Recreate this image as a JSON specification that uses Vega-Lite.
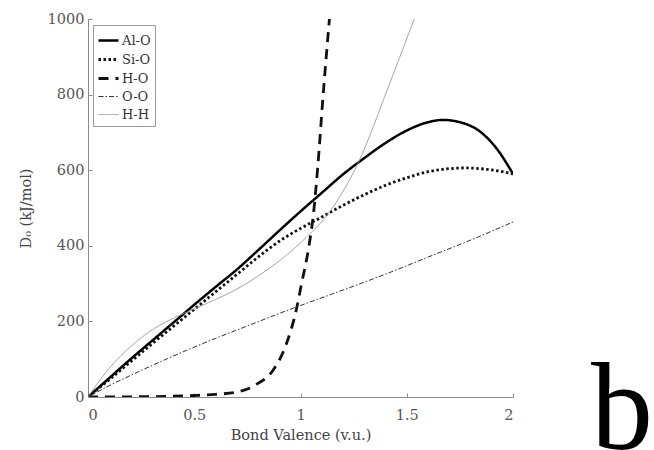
{
  "$schema": "https://vega.github.io/schema/vega-lite/v6.json",
  "autosize": {"type": "none"},
  "padding": {"left": 88, "top": 19, "right": 141, "bottom": 53},
  "width": 425,
  "height": 378,
  "background": "white",
  "title": {"text": "b", "orient": "bottom", "anchor": "end", "frame": "group", "font": "Liberation Serif", "fontSize": 124, "fontWeight": "normal", "color": "black", "baseline": "alphabetic", "dx": 140, "dy": 3},
  "config": {
    "view": {"stroke": null},
    "font": "DejaVu Serif",
    "axis": {"grid": false, "domainColor": "#8a8a8a", "tickColor": "#8a8a8a", "labelFont": "DejaVu Serif", "labelFontSize": 14.5, "labelColor": "#555", "titleFont": "DejaVu Serif", "titleFontSize": 14.5, "titleColor": "#444", "titleFontWeight": "normal", "tickSize": -4},
    "legend": {"labelFont": "DejaVu Serif", "labelFontSize": 13, "labelColor": "#333"}
  },
  "data": {"values": [
    {"series": "Al-O", "x": 0, "y": 0}, {"series": "Al-O", "x": 0.1, "y": 50}, {"series": "Al-O", "x": 0.2, "y": 100}, {"series": "Al-O", "x": 0.3, "y": 148}, {"series": "Al-O", "x": 0.4, "y": 196}, {"series": "Al-O", "x": 0.5, "y": 244}, {"series": "Al-O", "x": 0.6, "y": 291}, {"series": "Al-O", "x": 0.7, "y": 337}, {"series": "Al-O", "x": 0.8, "y": 388}, {"series": "Al-O", "x": 0.9, "y": 440}, {"series": "Al-O", "x": 1.0, "y": 491}, {"series": "Al-O", "x": 1.1, "y": 540}, {"series": "Al-O", "x": 1.2, "y": 589}, {"series": "Al-O", "x": 1.3, "y": 632}, {"series": "Al-O", "x": 1.4, "y": 672}, {"series": "Al-O", "x": 1.5, "y": 705}, {"series": "Al-O", "x": 1.6, "y": 727}, {"series": "Al-O", "x": 1.67, "y": 733}, {"series": "Al-O", "x": 1.75, "y": 727}, {"series": "Al-O", "x": 1.85, "y": 700}, {"series": "Al-O", "x": 1.93, "y": 652}, {"series": "Al-O", "x": 2.0, "y": 590},
    {"series": "Si-O", "x": 0, "y": 0}, {"series": "Si-O", "x": 0.1, "y": 46}, {"series": "Si-O", "x": 0.2, "y": 93}, {"series": "Si-O", "x": 0.3, "y": 140}, {"series": "Si-O", "x": 0.4, "y": 186}, {"series": "Si-O", "x": 0.5, "y": 232}, {"series": "Si-O", "x": 0.6, "y": 278}, {"series": "Si-O", "x": 0.7, "y": 324}, {"series": "Si-O", "x": 0.8, "y": 370}, {"series": "Si-O", "x": 0.9, "y": 412}, {"series": "Si-O", "x": 1.0, "y": 446}, {"series": "Si-O", "x": 1.1, "y": 476}, {"series": "Si-O", "x": 1.2, "y": 507}, {"series": "Si-O", "x": 1.3, "y": 535}, {"series": "Si-O", "x": 1.4, "y": 560}, {"series": "Si-O", "x": 1.5, "y": 580}, {"series": "Si-O", "x": 1.6, "y": 596}, {"series": "Si-O", "x": 1.7, "y": 604}, {"series": "Si-O", "x": 1.78, "y": 606}, {"series": "Si-O", "x": 1.88, "y": 602}, {"series": "Si-O", "x": 1.96, "y": 595}, {"series": "Si-O", "x": 2.0, "y": 590},
    {"series": "H-O", "x": 0, "y": 0}, {"series": "H-O", "x": 0.3, "y": 1}, {"series": "H-O", "x": 0.5, "y": 4}, {"series": "H-O", "x": 0.6, "y": 7}, {"series": "H-O", "x": 0.7, "y": 13}, {"series": "H-O", "x": 0.75, "y": 21}, {"series": "H-O", "x": 0.8, "y": 36}, {"series": "H-O", "x": 0.87, "y": 70}, {"series": "H-O", "x": 0.935, "y": 143}, {"series": "H-O", "x": 0.98, "y": 230}, {"series": "H-O", "x": 1.005, "y": 300}, {"series": "H-O", "x": 1.037, "y": 390}, {"series": "H-O", "x": 1.06, "y": 480}, {"series": "H-O", "x": 1.087, "y": 650}, {"series": "H-O", "x": 1.1, "y": 750}, {"series": "H-O", "x": 1.136, "y": 1000},
    {"series": "O-O", "x": 0, "y": 0}, {"series": "O-O", "x": 0.1, "y": 30}, {"series": "O-O", "x": 0.2, "y": 57}, {"series": "O-O", "x": 0.3, "y": 83}, {"series": "O-O", "x": 0.4, "y": 108}, {"series": "O-O", "x": 0.5, "y": 132}, {"series": "O-O", "x": 0.6, "y": 155}, {"series": "O-O", "x": 0.7, "y": 177}, {"series": "O-O", "x": 0.8, "y": 199}, {"series": "O-O", "x": 0.9, "y": 221}, {"series": "O-O", "x": 1.0, "y": 242}, {"series": "O-O", "x": 1.2, "y": 283}, {"series": "O-O", "x": 1.4, "y": 325}, {"series": "O-O", "x": 1.6, "y": 370}, {"series": "O-O", "x": 1.8, "y": 415}, {"series": "O-O", "x": 2.0, "y": 463},
    {"series": "H-H", "x": 0, "y": 0}, {"series": "H-H", "x": 0.05, "y": 40}, {"series": "H-H", "x": 0.1, "y": 76}, {"series": "H-H", "x": 0.2, "y": 133}, {"series": "H-H", "x": 0.3, "y": 177}, {"series": "H-H", "x": 0.4, "y": 208}, {"series": "H-H", "x": 0.5, "y": 233}, {"series": "H-H", "x": 0.6, "y": 258}, {"series": "H-H", "x": 0.715, "y": 290}, {"series": "H-H", "x": 0.8, "y": 320}, {"series": "H-H", "x": 0.9, "y": 360}, {"series": "H-H", "x": 1.03, "y": 424}, {"series": "H-H", "x": 1.14, "y": 492}, {"series": "H-H", "x": 1.27, "y": 618}, {"series": "H-H", "x": 1.42, "y": 830}, {"series": "H-H", "x": 1.535, "y": 1000}
  ]},
  "mark": {"type": "line", "interpolate": "monotone", "clip": true},
  "encoding": {
    "x": {"field": "x", "type": "quantitative", "scale": {"domain": [0, 2], "nice": false}, "axis": {"title": "Bond Valence (v.u.)", "values": [0, 0.5, 1, 1.5, 2], "format": "~g", "labelPadding": 15, "titlePadding": 7}},
    "y": {"field": "y", "type": "quantitative", "scale": {"domain": [0, 1000], "nice": false}, "axis": {"title": "D₀ (kJ/mol)", "values": [0, 200, 400, 600, 800, 1000], "format": "d", "labelPadding": 8, "titlePadding": 14}},
    "color": {"field": "series", "type": "nominal", "scale": {"domain": ["Al-O", "Si-O", "H-O", "O-O", "H-H"], "range": ["#000000", "#111111", "#111111", "#333333", "#999999"]}, "legend": {"title": null, "orient": "none", "legendX": 5, "legendY": 6, "symbolType": "stroke", "symbolSize": 400, "strokeColor": "#999", "fillColor": "white", "padding": 4, "rowPadding": 0, "labelOffset": 2}},
    "strokeDash": {"field": "series", "type": "nominal", "scale": {"domain": ["Al-O", "Si-O", "H-O", "O-O", "H-H"], "range": [[1, 0], [2.5, 2.5], [10, 7], [5, 2, 1.5, 2], [1, 0]]}, "legend": {"title": null}},
    "strokeWidth": {"field": "series", "type": "nominal", "scale": {"type": "ordinal", "domain": ["Al-O", "Si-O", "H-O", "O-O", "H-H"], "range": [2.5, 2.8, 2.8, 1, 1]}, "legend": {"title": null}}
  }
}
